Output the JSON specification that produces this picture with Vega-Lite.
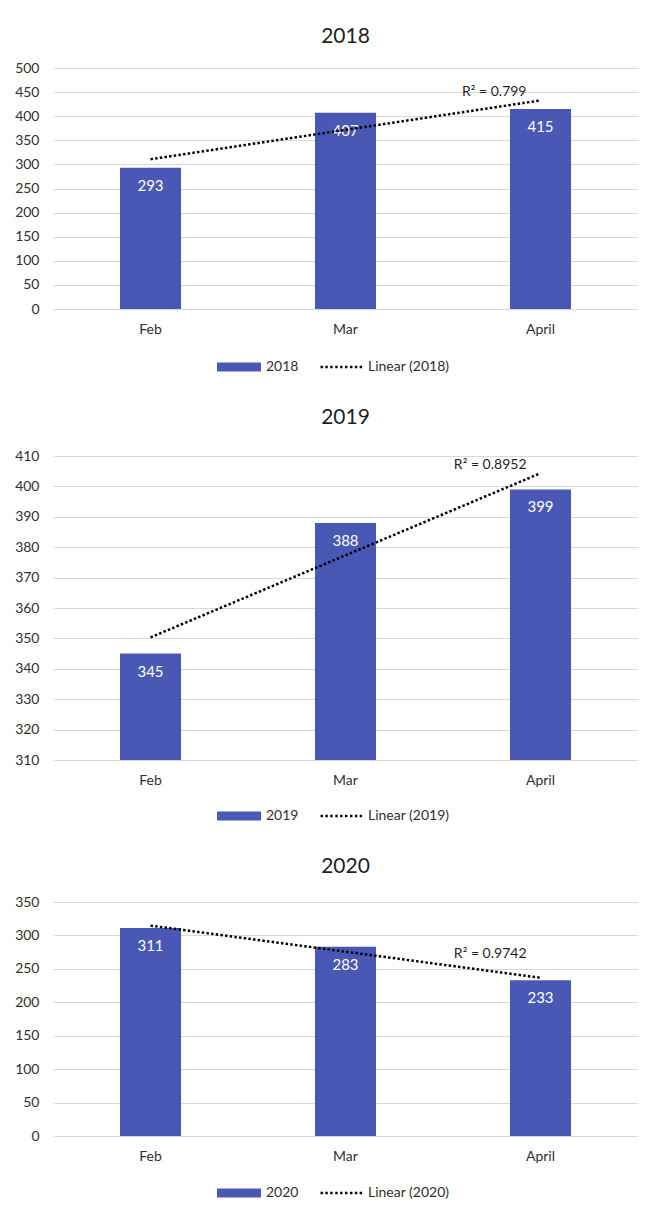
{
  "$schema": "https://vega.github.io/schema/vega-lite/v6.json",
  "padding": {"left": 14, "top": 26, "right": 10, "bottom": 5},
  "background": "white",
  "config": {
    "view": {"stroke": null},
    "font": "Lato",
    "axis": {"labelFont": "Lato", "labelFontSize": 14, "labelColor": "#303030", "title": null},
    "axisY": {"domain": false, "ticks": false, "labelPadding": 14, "gridColor": "#d9d9d9", "gridWidth": 1.2, "labelOverlap": false},
    "axisX": {"domain": false, "ticks": false, "labelPadding": 13, "labelAngle": 0, "grid": false},
    "title": {"font": "Lato", "fontSize": 21, "fontWeight": "normal", "color": "#1f1f1f", "frame": "group", "anchor": "middle"},
    "legend": {"orient": "none", "direction": "horizontal", "title": null, "symbolSize": 1936, "labelOffset": 5, "columnPadding": 20, "labelFontSize": 14, "labelFont": "Lato", "labelColor": "#303030", "symbolStrokeWidth": 0, "legendX": 164}
  },
  "resolve": {"scale": {"color": "independent", "x": "independent", "y": "independent"}, "legend": {"color": "independent"}},
  "spacing": 33,
  "vconcat": [
    {
      "title": {"text": "2018", "offset": 14},
      "width": 585,
      "height": 241,
      "data": {"values": [
        {"month": "Feb", "value": 293, "trend": 310.67, "series": "2018", "r2": ""},
        {"month": "Mar", "value": 407, "trend": 371.67, "series": "2018", "r2": ""},
        {"month": "April", "value": 415, "trend": 432.67, "series": "2018", "r2": "R² = 0.799"}
      ]},
      "encoding": {"x": {"field": "month", "type": "nominal", "sort": ["Feb", "Mar", "April"], "scale": {"paddingInner": 0.687, "paddingOuter": 0.3435}}},
      "layer": [
        {"mark": {"type": "bar"},
         "encoding": {
           "y": {"field": "value", "type": "quantitative", "scale": {"domain": [0, 500]}, "axis": {"values": [0, 50, 100, 150, 200, 250, 300, 350, 400, 450, 500], "title": null}},
           "color": {"field": "series", "type": "nominal", "scale": {"domain": ["2018", "Linear (2018)"], "range": ["#4858b4", "#000000"]},
             "legend": {"legendY": 277, "encode": {"symbols": {"update": {"shape": {"signal": "indexof(datum.value,'Linear')<0 ? 'M-1,-0.2H1V0.2H-1Z' : 'M-0.93,-0.055h0.11v0.11h-0.11zM-0.71,-0.055h0.11v0.11h-0.11zM-0.49,-0.055h0.11v0.11h-0.11zM-0.26,-0.055h0.11v0.11h-0.11zM-0.04,-0.055h0.11v0.11h-0.11zM0.18,-0.055h0.11v0.11h-0.11zM0.41,-0.055h0.11v0.11h-0.11zM0.63,-0.055h0.11v0.11h-0.11zM0.85,-0.055h0.11v0.11h-0.11z'"}}}}}}
         }},
        {"mark": {"type": "text", "color": "white", "dy": 18, "fontSize": 15, "baseline": "middle"},
         "encoding": {"y": {"field": "value", "type": "quantitative", "scale": {"domain": [0, 500]}, "axis": {"values": [0, 50, 100, 150, 200, 250, 300, 350, 400, 450, 500], "title": null}}, "text": {"field": "value", "type": "quantitative"}}},
        {"mark": {"type": "line", "color": "black", "strokeDash": [2.5, 2.2], "strokeWidth": 2.5},
         "encoding": {"y": {"field": "trend", "type": "quantitative", "scale": {"domain": [0, 500]}, "axis": {"values": [0, 50, 100, 150, 200, 250, 300, 350, 400, 450, 500], "title": null}}}},
        {"transform": [{"filter": "datum.r2 != ''"}],
         "mark": {"type": "text", "align": "right", "baseline": "middle", "dx": -14, "dy": -8, "fontSize": 14, "color": "#1f1f1f"},
         "encoding": {"y": {"field": "trend", "type": "quantitative", "scale": {"domain": [0, 500]}, "axis": {"values": [0, 50, 100, 150, 200, 250, 300, 350, 400, 450, 500], "title": null}}, "text": {"field": "r2", "type": "nominal"}}}
      ]
    },
    {
      "title": {"text": "2019", "offset": 21},
      "width": 585,
      "height": 304,
      "data": {"values": [
        {"month": "Feb", "value": 345, "trend": 350.33, "series": "2019", "r2": ""},
        {"month": "Mar", "value": 388, "trend": 377.33, "series": "2019", "r2": ""},
        {"month": "April", "value": 399, "trend": 404.33, "series": "2019", "r2": "R² = 0.8952"}
      ]},
      "encoding": {"x": {"field": "month", "type": "nominal", "sort": ["Feb", "Mar", "April"], "scale": {"paddingInner": 0.687, "paddingOuter": 0.3435}}},
      "layer": [
        {"mark": {"type": "bar", "clip": true},
         "encoding": {
           "y": {"field": "value", "type": "quantitative", "scale": {"domain": [310, 410], "zero": false}, "axis": {"values": [310, 320, 330, 340, 350, 360, 370, 380, 390, 400, 410], "title": null}},
           "color": {"field": "series", "type": "nominal", "scale": {"domain": ["2019", "Linear (2019)"], "range": ["#4858b4", "#000000"]},
             "legend": {"legendY": 338, "encode": {"symbols": {"update": {"shape": {"signal": "indexof(datum.value,'Linear')<0 ? 'M-1,-0.2H1V0.2H-1Z' : 'M-0.93,-0.055h0.11v0.11h-0.11zM-0.71,-0.055h0.11v0.11h-0.11zM-0.49,-0.055h0.11v0.11h-0.11zM-0.26,-0.055h0.11v0.11h-0.11zM-0.04,-0.055h0.11v0.11h-0.11zM0.18,-0.055h0.11v0.11h-0.11zM0.41,-0.055h0.11v0.11h-0.11zM0.63,-0.055h0.11v0.11h-0.11zM0.85,-0.055h0.11v0.11h-0.11z'"}}}}}}
         }},
        {"mark": {"type": "text", "color": "white", "dy": 18, "fontSize": 15, "baseline": "middle"},
         "encoding": {"y": {"field": "value", "type": "quantitative", "scale": {"domain": [310, 410], "zero": false}, "axis": {"values": [310, 320, 330, 340, 350, 360, 370, 380, 390, 400, 410], "title": null}}, "text": {"field": "value", "type": "quantitative"}}},
        {"mark": {"type": "line", "color": "black", "strokeDash": [2.5, 2.2], "strokeWidth": 2.5},
         "encoding": {"y": {"field": "trend", "type": "quantitative", "scale": {"domain": [310, 410], "zero": false}, "axis": {"values": [310, 320, 330, 340, 350, 360, 370, 380, 390, 400, 410], "title": null}}}},
        {"transform": [{"filter": "datum.r2 != ''"}],
         "mark": {"type": "text", "align": "right", "baseline": "middle", "dx": -14, "dy": -8, "fontSize": 14, "color": "#1f1f1f"},
         "encoding": {"y": {"field": "trend", "type": "quantitative", "scale": {"domain": [310, 410], "zero": false}, "axis": {"values": [310, 320, 330, 340, 350, 360, 370, 380, 390, 400, 410], "title": null}}, "text": {"field": "r2", "type": "nominal"}}}
      ]
    },
    {
      "title": {"text": "2020", "offset": 18},
      "width": 585,
      "height": 234,
      "data": {"values": [
        {"month": "Feb", "value": 311, "trend": 314.67, "series": "2020", "r2": ""},
        {"month": "Mar", "value": 283, "trend": 275.67, "series": "2020", "r2": ""},
        {"month": "April", "value": 233, "trend": 236.67, "series": "2020", "r2": "R² = 0.9742"}
      ]},
      "encoding": {"x": {"field": "month", "type": "nominal", "sort": ["Feb", "Mar", "April"], "scale": {"paddingInner": 0.687, "paddingOuter": 0.3435}}},
      "layer": [
        {"mark": {"type": "bar"},
         "encoding": {
           "y": {"field": "value", "type": "quantitative", "scale": {"domain": [0, 350]}, "axis": {"values": [0, 50, 100, 150, 200, 250, 300, 350], "title": null}},
           "color": {"field": "series", "type": "nominal", "scale": {"domain": ["2020", "Linear (2020)"], "range": ["#4858b4", "#000000"]},
             "legend": {"legendY": 269, "encode": {"symbols": {"update": {"shape": {"signal": "indexof(datum.value,'Linear')<0 ? 'M-1,-0.2H1V0.2H-1Z' : 'M-0.93,-0.055h0.11v0.11h-0.11zM-0.71,-0.055h0.11v0.11h-0.11zM-0.49,-0.055h0.11v0.11h-0.11zM-0.26,-0.055h0.11v0.11h-0.11zM-0.04,-0.055h0.11v0.11h-0.11zM0.18,-0.055h0.11v0.11h-0.11zM0.41,-0.055h0.11v0.11h-0.11zM0.63,-0.055h0.11v0.11h-0.11zM0.85,-0.055h0.11v0.11h-0.11z'"}}}}}}
         }},
        {"mark": {"type": "text", "color": "white", "dy": 18, "fontSize": 15, "baseline": "middle"},
         "encoding": {"y": {"field": "value", "type": "quantitative", "scale": {"domain": [0, 350]}, "axis": {"values": [0, 50, 100, 150, 200, 250, 300, 350], "title": null}}, "text": {"field": "value", "type": "quantitative"}}},
        {"mark": {"type": "line", "color": "black", "strokeDash": [2.5, 2.2], "strokeWidth": 2.5},
         "encoding": {"y": {"field": "trend", "type": "quantitative", "scale": {"domain": [0, 350]}, "axis": {"values": [0, 50, 100, 150, 200, 250, 300, 350], "title": null}}}},
        {"transform": [{"filter": "datum.r2 != ''"}],
         "mark": {"type": "text", "align": "right", "baseline": "middle", "dx": -14, "dy": -24, "fontSize": 14, "color": "#1f1f1f"},
         "encoding": {"y": {"field": "trend", "type": "quantitative", "scale": {"domain": [0, 350]}, "axis": {"values": [0, 50, 100, 150, 200, 250, 300, 350], "title": null}}, "text": {"field": "r2", "type": "nominal"}}}
      ]
    }
  ]
}
